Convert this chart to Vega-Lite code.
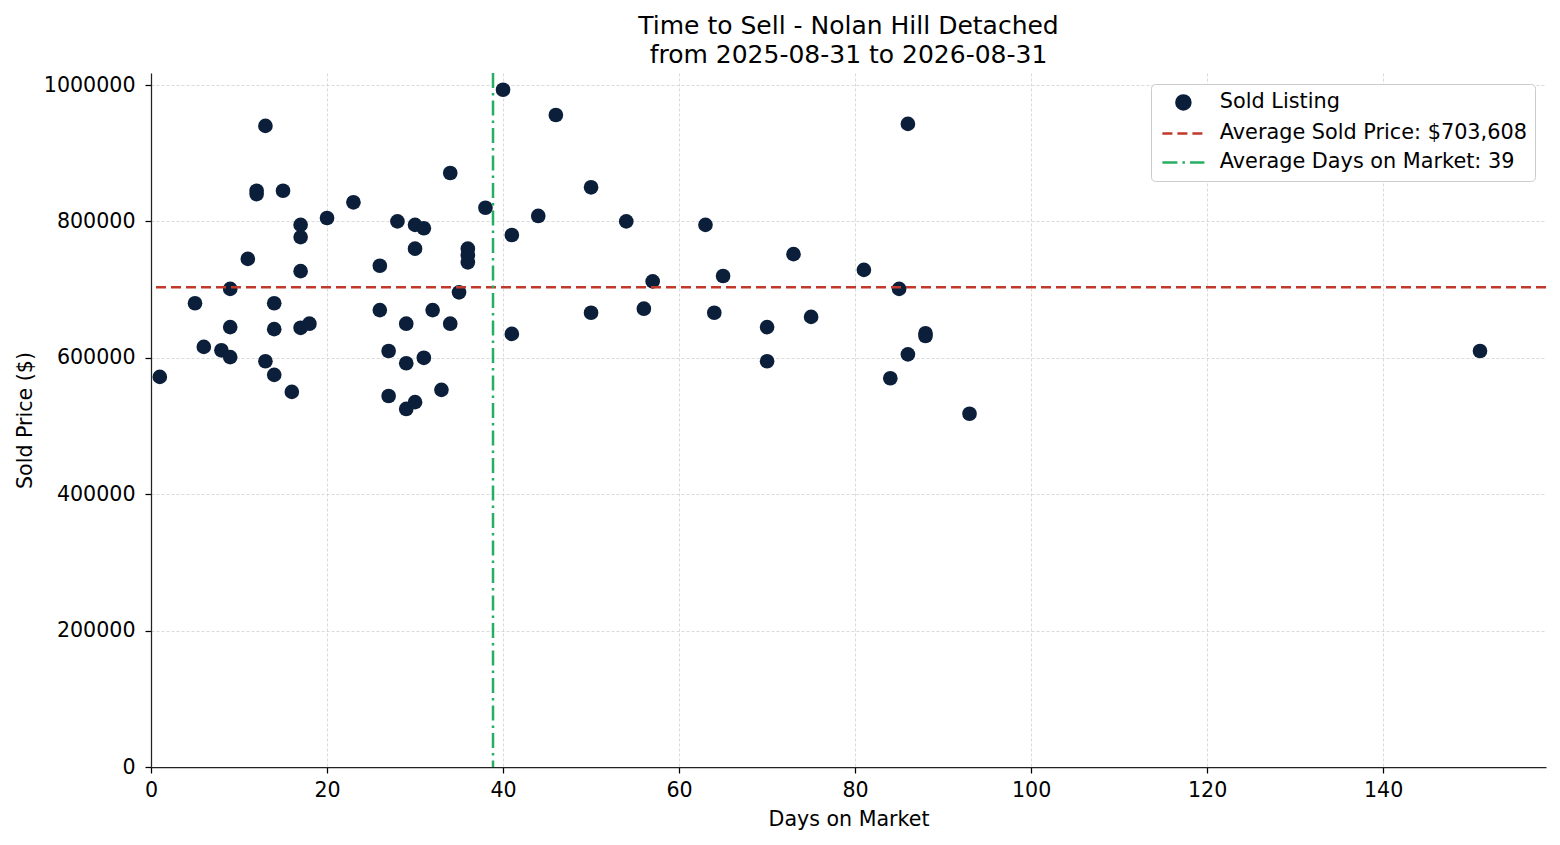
{
  "$schema": "https://vega.github.io/schema/vega-lite/v6.json",
  "autosize": "none",
  "padding": {"left": 151, "top": 73, "right": 14, "bottom": 78},
  "width": 1395,
  "height": 694,
  "background": "white",
  "title": {
    "text": ["Time to Sell - Nolan Hill Detached", "from 2025-08-31 to 2026-08-31"],
    "anchor": "middle",
    "font": "DejaVu Sans",
    "fontSize": 25,
    "fontWeight": "normal",
    "color": "black",
    "lineHeight": 29,
    "offset": 4
  },
  "config": {
    "view": {"stroke": null},
    "font": "DejaVu Sans",
    "axis": {
      "labelFont": "DejaVu Sans",
      "labelFontSize": 20.6,
      "labelColor": "black",
      "labelFlush": false,
      "titleFont": "DejaVu Sans",
      "titleFontSize": 20.6,
      "titleFontWeight": "normal",
      "titleColor": "black",
      "tickColor": "black",
      "tickSize": 6,
      "tickWidth": 1.25,
      "domainColor": "#222222",
      "domainWidth": 1.25,
      "gridColor": "#d0d0d0",
      "gridDash": [3, 2],
      "gridWidth": 0.8
    }
  },
  "data": {
    "values": [
      {"days": 1, "price": 572000}, {"days": 5, "price": 680000}, {"days": 6, "price": 616000},
      {"days": 8, "price": 611000}, {"days": 9, "price": 701000}, {"days": 9, "price": 645000},
      {"days": 9, "price": 601000}, {"days": 11, "price": 745000}, {"days": 12, "price": 845000},
      {"days": 12, "price": 840000}, {"days": 13, "price": 940000}, {"days": 13, "price": 595000},
      {"days": 14, "price": 680000}, {"days": 14, "price": 642000}, {"days": 14, "price": 575000},
      {"days": 15, "price": 845000}, {"days": 16, "price": 550000}, {"days": 17, "price": 795000},
      {"days": 17, "price": 777000}, {"days": 17, "price": 727000}, {"days": 17, "price": 644000},
      {"days": 18, "price": 650000}, {"days": 20, "price": 805000}, {"days": 23, "price": 828000},
      {"days": 26, "price": 735000}, {"days": 26, "price": 670000}, {"days": 27, "price": 610000},
      {"days": 27, "price": 544000}, {"days": 28, "price": 800000}, {"days": 29, "price": 650000},
      {"days": 29, "price": 592000}, {"days": 29, "price": 525000}, {"days": 30, "price": 795000},
      {"days": 30, "price": 760000}, {"days": 30, "price": 535000}, {"days": 31, "price": 790000},
      {"days": 31, "price": 600000}, {"days": 32, "price": 670000}, {"days": 33, "price": 553000},
      {"days": 34, "price": 871000}, {"days": 34, "price": 650000}, {"days": 35, "price": 696000},
      {"days": 36, "price": 760000}, {"days": 36, "price": 750000}, {"days": 36, "price": 740000},
      {"days": 38, "price": 820000}, {"days": 40, "price": 993000}, {"days": 41, "price": 780000},
      {"days": 41, "price": 635000}, {"days": 44, "price": 808000}, {"days": 46, "price": 956000},
      {"days": 50, "price": 850000}, {"days": 50, "price": 666000}, {"days": 54, "price": 800000},
      {"days": 56, "price": 672000}, {"days": 57, "price": 712000}, {"days": 63, "price": 795000},
      {"days": 64, "price": 666000}, {"days": 65, "price": 720000}, {"days": 70, "price": 645000},
      {"days": 70, "price": 595000}, {"days": 73, "price": 752000}, {"days": 75, "price": 660000},
      {"days": 81, "price": 729000}, {"days": 84, "price": 570000}, {"days": 85, "price": 701000},
      {"days": 86, "price": 943000}, {"days": 86, "price": 605000}, {"days": 88, "price": 632000},
      {"days": 88, "price": 636000}, {"days": 93, "price": 518000}, {"days": 151, "price": 610000}
    ]
  },
  "encoding": {
    "color": {
      "field": "series", "type": "nominal",
      "scale": {
        "domain": ["Sold Listing", "Average Sold Price: $703,608", "Average Days on Market: 39"],
        "range": ["#0b1f3b", "#c0392b", "#27ae60"]
      },
      "legend": {
        "title": null,
        "orient": "top-right",
        "offset": 11,
        "padding": 8,
        "fillColor": "white",
        "strokeColor": "#cccccc",
        "cornerRadius": 4,
        "labelFont": "DejaVu Sans",
        "labelFontSize": 20.8,
        "labelColor": "black",
        "labelLimit": 600,
        "labelOffset": 40,
        "rowPadding": 7,
        "symbolSize": 196,
        "encode": {
          "symbols": {
            "update": {
              "shape": {"signal": "datum.value === 'Sold Listing' ? 'M1,0A1,1,0,1,1,3,0A1,1,0,1,1,1,0Z' : 'M-1,0H5'"},
              "fill": {"signal": "datum.value === 'Sold Listing' ? '#0b1f3b' : 'transparent'"},
              "stroke": {"signal": "datum.value === 'Sold Listing' ? 'transparent' : (datum.value === 'Average Sold Price: $703,608' ? '#c0392b' : '#27ae60')"},
              "strokeWidth": {"value": 2.5},
              "strokeDash": {"signal": "datum.value === 'Average Sold Price: $703,608' ? [10, 5] : (datum.value === 'Average Days on Market: 39' ? [15, 5, 2.5, 5] : [])"},
              "opacity": {"value": 1},
              "size": {"value": 196}
            }
          }
        }
      }
    }
  },
  "layer": [
    {
      "transform": [{"calculate": "'Sold Listing'", "as": "series"}],
      "mark": {"type": "point", "shape": "circle", "filled": true, "size": 215, "opacity": 1, "strokeWidth": 0},
      "encoding": {
        "x": {
          "field": "days", "type": "quantitative",
          "scale": {"domain": [0, 158.5], "nice": false, "zero": false},
          "axis": {"title": "Days on Market", "values": [0, 20, 40, 60, 80, 100, 120, 140], "labelPadding": 7, "titlePadding": 9}
        },
        "y": {
          "field": "price", "type": "quantitative",
          "scale": {"domain": [0, 1017600], "nice": false, "zero": false},
          "axis": {"title": "Sold Price ($)", "values": [0, 200000, 400000, 600000, 800000, 1000000], "format": "d", "labelPadding": 10, "titlePadding": 8}
        }
      }
    },
    {
      "data": {"values": [{"series": "Average Sold Price: $703,608", "value": 703608}]},
      "mark": {"type": "rule", "strokeWidth": 2.5, "strokeDash": [10, 5]},
      "encoding": {
        "y": {"field": "value", "type": "quantitative"}
      }
    },
    {
      "data": {"values": [{"series": "Average Days on Market: 39", "value": 38.86}]},
      "mark": {"type": "rule", "strokeWidth": 2.5, "strokeDash": [15, 5, 2.5, 5]},
      "encoding": {
        "x": {"field": "value", "type": "quantitative"}
      }
    }
  ]
}
